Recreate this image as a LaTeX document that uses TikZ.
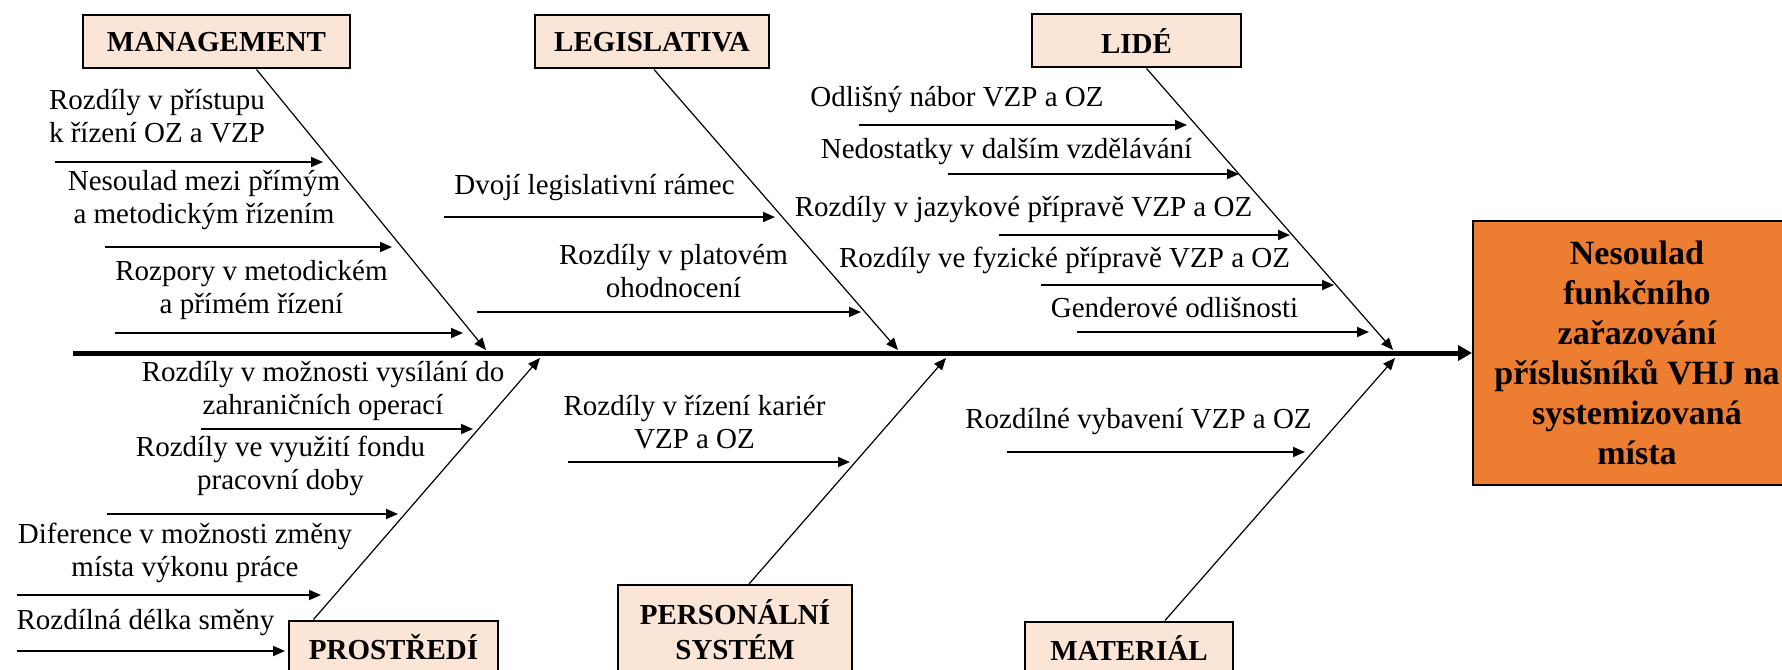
\documentclass[tikz,border=0pt]{standalone}
\usepackage{fontspec}
\setmainfont{Liberation Serif}
\usepackage{tikz}
\usetikzlibrary{arrows.meta}

\definecolor{peach}{HTML}{FBE5D6}
\definecolor{burnt}{HTML}{ED7D31}

\begin{document}
\begin{tikzpicture}[x=1pt, y=-1pt,
  cause/.style={draw=black, line width=2, fill=peach, inner sep=0pt,
    minimum height=53pt, align=center, font=\fontsize{29}{35}\selectfont\bfseries},
  effect/.style={draw=black, line width=2, fill=burnt, inner sep=0pt,
    minimum width=328pt, minimum height=264pt, align=center,
    font=\fontsize{34}{40}\selectfont\bfseries},
  reason/.style={inner sep=0pt, align=center, font=\fontsize{29}{33}\selectfont},
  spine/.style={line width=5, -{Triangle[length=14pt,width=15pt]}},
  bone/.style={line width=1.2, -{Triangle[length=12pt,width=10pt]}},
  twig/.style={line width=1.8, -{Triangle[length=12pt,width=10pt]}}]

\path[use as bounding box, fill=white] (0,0) rectangle (1782,669);

% cause boxes
\node[cause, minimum width=267pt] (mgmt) at (216.5,42) {MANAGEMENT};
\node[cause, minimum width=234pt] (legis) at (652,42) {LEGISLATIVA};
\node[cause, minimum width=209pt] (lide) at (1136.5,41) {LIDÉ};
\node[cause, minimum width=209pt] (prost) at (393.5,647) {PROSTŘEDÍ};
\node[cause, minimum width=234pt, minimum height=90pt] (pers) at (735,630) {PERSONÁLNÍ\\SYSTÉM};
\node[cause, minimum width=208pt] (mat) at (1129,648) {MATERIÁL};

% effect box
\node[effect] (result) at (1637,353) {Nesoulad\\funkčního\\zařazování\\příslušníků VHJ na\\systemizovaná\\místa};

% spine
\coordinate (tail) at (73,353);
\draw[spine] (tail) -- (result);

% bones
\coordinate (mgmtEnd) at (486,350);
\coordinate (legisEnd) at (898,350);
\coordinate (lideEnd) at (1393,350);
\coordinate (prostEnd) at (540,358);
\coordinate (persEnd) at (946,358);
\coordinate (matEnd) at (1395,358);
\draw[bone] ([xshift=40pt]mgmt.south) -- (mgmtEnd);
\draw[bone] ([xshift=2pt]legis.south) -- (legisEnd);
\draw[bone] ([xshift=10pt]lide.south) -- (lideEnd);
\draw[bone] ([xshift=-80pt]prost.north) -- (prostEnd);
\draw[bone] ([xshift=14pt]pers.north) -- (persEnd);
\draw[bone] ([xshift=36pt]mat.north) -- (matEnd);

% reasons - management
\node[reason, align=left] (r1) at (157,116) {Rozdíly v přístupu\\k řízení OZ a VZP};
\node[reason] (r2) at (204,200) {Nesoulad mezi přímým\\a metodickým řízením};
\node[reason] (r3) at (251.5,290) {Rozpory v metodickém\\a přímém řízení};

% reasons - legislativa
\node[reason] (r4) at (594.5,188) {Dvojí legislativní rámec};
\node[reason] (r5) at (673.5,271) {Rozdíly v platovém\\ohodnocení};

% reasons - lide
\node[reason] (r6) at (957,100) {Odlišný nábor VZP a OZ};
\node[reason] (r7) at (1006.5,152) {Nedostatky v dalším vzdělávání};
\node[reason] (r8) at (1023.5,210) {Rozdíly v jazykové přípravě VZP a OZ};
\node[reason] (r9) at (1064.5,260) {Rozdíly ve fyzické přípravě VZP a OZ};
\node[reason] (r10) at (1174.5,308) {Genderové odlišnosti};

% reasons - prostredi
\node[reason] (r11) at (323,391) {Rozdíly v možnosti vysílání do\\zahraničních operací};
\node[reason] (r12) at (280.5,466) {Rozdíly ve využití fondu\\pracovní doby};
\node[reason] (r13) at (185,553) {Diference v možnosti změny\\místa výkonu práce};
\node[reason] (r14) at (145.5,623) {Rozdílná délka směny};

% reasons - personalni system, material
\node[reason] (r15) at (694.5,422) {Rozdíly v řízení kariér\\VZP a OZ};
\node[reason] (r16) at (1138.5,422) {Rozdílné vybavení VZP a OZ};

% small arrows
\foreach \name/\xa/\xb/\yy in {t1/55/323/162, t2/105/392/247, t3/115/463/333,
    t4/444/775/217, t5/477/861/312,
    t6/859/1187/125, t7/948/1239/174, t8/999/1290/235, t9/1041/1334/285, t10/1077/1369/332,
    t11/201/473/429, t12/107/398/514, t13/17/321/595, t14/17/285/651,
    t15/568/850/462, t16/1007/1305/452} {
  \coordinate (\name a) at (\xa,\yy);
  \coordinate (\name b) at (\xb,\yy);
  \draw[twig] (\name a) -- (\name b);
}

\end{tikzpicture}
\end{document}
